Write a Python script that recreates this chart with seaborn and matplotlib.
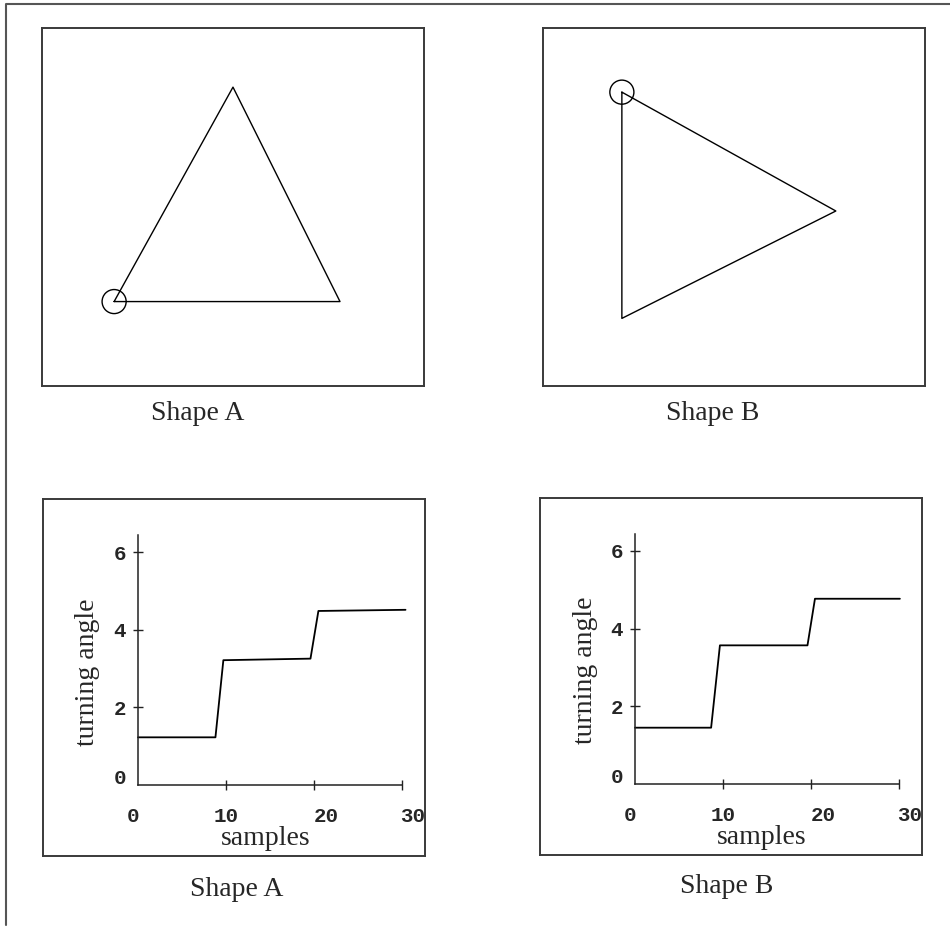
import matplotlib
matplotlib.use("Agg")
import matplotlib.pyplot as plt
from matplotlib.lines import Line2D
from matplotlib.transforms import ScaledTranslation
import pandas as pd
import seaborn as sns

# Triangle outlines in box units (0-100 each way); the first vertex is the start point
SHAPE_A_X = [19.0, 50.1, 78.1]
SHAPE_A_Y = [23.5, 83.4, 23.5]
SHAPE_B_X = [20.6, 76.7, 20.6]
SHAPE_B_Y = [82.0, 48.8, 18.8]

# Turning-angle functions sampled along each outline
SAMPLES_A = [0, 8.8, 9.7, 19.6, 20.5, 30.4]
ANGLE_A = [1.23, 1.23, 3.22, 3.26, 4.49, 4.52]
SAMPLES_B = [0, 8.65, 9.65, 19.6, 20.45, 30.1]
ANGLE_B = [1.45, 1.45, 3.57, 3.57, 4.77, 4.77]

X_TICKS = [0, 10, 20, 30]
Y_TICKS = [0, 2, 4, 6]
CAPTIONS = ["Shape A", "Shape B"]
X_LABEL = "samples"
Y_LABEL = "turning angle"

sns.set_style("white")

W, H = 950, 930
fig = plt.figure(figsize=(W / 100, H / 100), dpi=100)
fig.patch.set_facecolor("white")

SERIF = "Liberation Serif"
MONO = "Liberation Mono"
BOX_COLOR = "#3a3a3a"


def rect(x0, y0, x1, y1):
    """Axes rectangle from pixel corners (origin top-left)."""
    return [x0 / W, 1 - y1 / H, (x1 - x0) / W, (y1 - y0) / H]


def framed(ax):
    ax.set_xticks([])
    ax.set_yticks([])
    ax.set_facecolor("none")
    for s in ax.spines.values():
        s.set_visible(True)
        s.set_color(BOX_COLOR)
        s.set_linewidth(1.4)


# page frame, open on the right and bottom
fig.add_artist(Line2D([5.5 / W, 5.5 / W, 1.0], [1 - 925 / H, 1 - 4 / H, 1 - 4 / H],
                      transform=fig.transFigure, color="#555555", lw=1.5))


def draw_shape(r, xs, ys):
    ax = fig.add_axes(r)
    framed(ax)
    ax.set_xlim(0, 100)
    ax.set_ylim(0, 100)
    outline = pd.DataFrame({"x": xs + xs[:1], "y": ys + ys[:1]})
    sns.lineplot(data=outline, x="x", y="y", sort=False, estimator=None,
                 color="black", lw=1.0, ax=ax)
    sns.scatterplot(x=xs[:1], y=ys[:1], marker="o", s=300, facecolor="none",
                    edgecolor="black", linewidth=1.0, ax=ax)
    ax.set_xlabel("")
    ax.set_ylabel("")


def draw_angle(frame_r, inner_r, xs, ys, xlab_xy, ylab_xy):
    box = fig.add_axes(frame_r)
    framed(box)
    ax = fig.add_axes(inner_r)
    ax.set_facecolor("none")
    curve = pd.DataFrame({X_LABEL: xs, Y_LABEL: ys})
    sns.lineplot(data=curve, x=X_LABEL, y=Y_LABEL, sort=False, estimator=None,
                 color="black", lw=1.3, clip_on=False, ax=ax)
    ax.set_xlim(0, 30)
    ax.set_ylim(0, 6.45)
    for side in ("top", "right"):
        ax.spines[side].set_visible(False)
    for side in ("left", "bottom"):
        ax.spines[side].set_visible(True)
        ax.spines[side].set_color("#222222")
        ax.spines[side].set_linewidth(1.1)
    ax.set_xticks(X_TICKS)
    ax.set_yticks(Y_TICKS)
    ax.tick_params(axis="both", direction="inout", length=7.5, width=1.0,
                   color="#222222", labelsize=15, bottom=True, left=True)
    ax.tick_params(axis="x", pad=12)
    ax.tick_params(axis="y", pad=5)
    ax.xaxis.get_major_ticks()[0].tick1line.set_visible(False)
    ax.yaxis.get_major_ticks()[0].tick1line.set_visible(False)
    for lab in ax.get_xticklabels() + ax.get_yticklabels():
        lab.set_fontfamily(MONO)
        lab.set_fontweight("bold")
    # nudge a few tick labels the way the hand-set page has them
    for lab, dx in zip(ax.get_xticklabels(), [-5, 0, 12, 11]):
        lab.set_transform(lab.get_transform() + ScaledTranslation(dx / 100, 0, fig.dpi_scale_trans))
    y0 = ax.get_yticklabels()[0]
    y0.set_transform(y0.get_transform() + ScaledTranslation(0, 9 / 100, fig.dpi_scale_trans))

    ax.set_xlabel(X_LABEL, fontfamily=SERIF, fontsize=20)
    ax.set_ylabel(Y_LABEL, fontfamily=SERIF, fontsize=20)
    ax.xaxis.label.set_va("center")
    ax.yaxis.label.set_va("center")
    ax.yaxis.label.set_rotation_mode("default")
    ax.xaxis.set_label_coords(*xlab_xy)
    ax.yaxis.set_label_coords(*ylab_xy)


draw_shape(rect(41.5, 27.7, 423.7, 385.7), SHAPE_A_X, SHAPE_A_Y)
draw_shape(rect(543.3, 27.7, 924.7, 385.7), SHAPE_B_X, SHAPE_B_Y)

draw_angle(rect(42.7, 498.7, 425.0, 855.5), rect(138, 535, 402, 785),
           SAMPLES_A, ANGLE_A, (0.485, -0.212), (-0.193, 0.452))
draw_angle(rect(539.7, 497.7, 921.7, 855.0), rect(635, 533.5, 899, 784),
           SAMPLES_B, ANGLE_B, (0.481, -0.214), (-0.189, 0.454))

for (cx, cy), text in zip([(198, 413), (713, 413)], CAPTIONS):
    fig.text(cx / W, 1 - cy / H, text, ha="center", va="center", family=SERIF, fontsize=20)
for (cx, cy), text in zip([(237, 889), (727, 886)], CAPTIONS):
    fig.text(cx / W, 1 - cy / H, text, ha="center", va="center", family=SERIF, fontsize=20)

fig.savefig("out.png", dpi=100, facecolor="white")
